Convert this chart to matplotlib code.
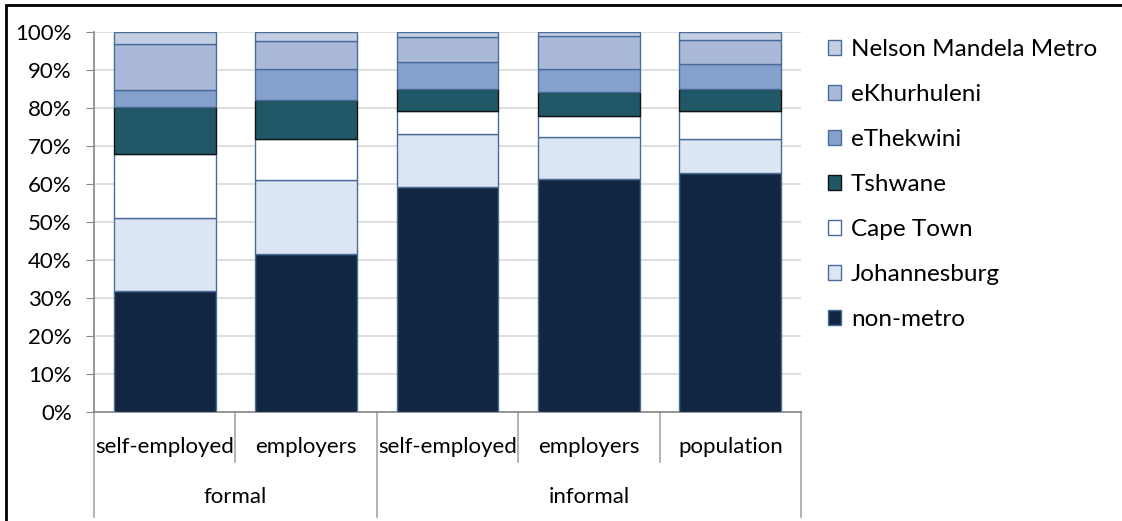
import matplotlib.pyplot as plt
import matplotlib.patches as mpatches
from matplotlib.transforms import blended_transform_factory
from matplotlib.ticker import PercentFormatter

plt.rcParams['font.family'] = ['Lato', 'DejaVu Sans']

# category labels, two levels
categories = ['self-employed', 'employers', 'self-employed', 'employers', 'population']
groups = ['formal', 'informal']
group_sizes = [2, 3]

# share of each region per category (%), bottom to top
regions = ['non-metro', 'Johannesburg', 'Cape Town', 'Tshwane',
           'eThekwini', 'eKhurhuleni', 'Nelson Mandela Metro']
non_metro = [31.8, 41.6, 59.1, 61.2, 62.8]
johannesburg = [19.3, 19.5, 14.1, 11.2, 9.0]
cape_town = [16.8, 10.8, 6.0, 5.6, 7.4]
tshwane = [12.4, 10.1, 5.8, 6.2, 5.8]
ethekwini = [4.5, 8.3, 7.1, 6.1, 6.6]
ekhurhuleni = [12.0, 7.2, 6.5, 8.6, 6.2]
nelson_mandela = [3.2, 2.5, 1.4, 1.1, 2.2]

series = [non_metro, johannesburg, cape_town, tshwane,
          ethekwini, ekhurhuleni, nelson_mandela]
colors = ['#112640', '#DCE6F2', '#FFFFFF', '#215868',
          '#84A0CB', '#AAB9D8', '#C5CFE3']
edges = ['#4A6C9B', '#4A6C9B', '#4A6C9B', '#111111',
         '#4A6C9B', '#4A6C9B', '#4A6C9B']

W, H = 1122, 521
fig = plt.figure(figsize=(W / 100, H / 100), dpi=100)
ax = fig.add_axes([94 / W, 1 - 412 / H, 707 / W, 380 / H])

x = list(range(len(categories)))
bottom = [0.0] * len(categories)
for vals, col, ec, name in zip(series, colors, edges, regions):
    ax.bar(x, vals, bottom=bottom, width=0.72, color=col,
           edgecolor=ec, linewidth=1.0, label=name, zorder=3)
    bottom = [a + v for a, v in zip(bottom, vals)]

ax.set_xlim(-0.5, len(categories) - 0.5)
ax.set_ylim(0, 100)
ax.set_yticks(range(0, 101, 10))
ax.yaxis.set_major_formatter(PercentFormatter(decimals=0))
ax.tick_params(axis='y', length=6, color='#868686', labelsize=16, pad=10)
ax.tick_params(axis='x', bottom=False, labelbottom=False)
ax.grid(axis='y', color='#D9D9D9', linewidth=1.2, zorder=0)
for s in ['top', 'right']:
    ax.spines[s].set_visible(False)
for s in ['left', 'bottom']:
    ax.spines[s].set_color('#868686')
    ax.spines[s].set_linewidth(1.2)

# two-level category axis below the plot
trans = blended_transform_factory(ax.transData, ax.transAxes)
px = 1 / 380
inner_low = -50 * px
outer_low = -105 * px
for i, lab in enumerate(categories):
    ax.text(i, -35 * px, lab, transform=trans, ha='center', va='center',
            fontsize=16, color='black')
edges_x = [0]
for n in group_sizes:
    edges_x.append(edges_x[-1] + n)
for i in range(len(categories) + 1):
    low = outer_low if i in edges_x else inner_low
    ax.plot([i - 0.5, i - 0.5], [0, low], transform=trans, color='#A6A6A6',
            linewidth=1.2, clip_on=False)
for g, start, n in zip(groups, edges_x[:-1], group_sizes):
    ax.text(start + (n - 1) / 2, -85 * px, g, transform=trans, ha='center',
            va='center', fontsize=16, color='black')

# legend, top entry first
handles = [mpatches.Patch(facecolor=c, edgecolor=e, linewidth=1.0)
           for c, e in zip(colors, edges)]
fig.legend(handles[::-1], regions[::-1], loc='upper left',
           bbox_to_anchor=(828 / W, 1 - 39 / H), frameon=False,
           fontsize=17.5, handlelength=0.55, handleheight=0.55,
           handletextpad=0.4, labelspacing=0.99, borderaxespad=0,
           borderpad=0)

# outer frame
fig.patches.append(mpatches.Rectangle((5.5 / W, -0.1), 1.2, 1 - 5 / H + 0.1,
                                      transform=fig.transFigure, fill=False,
                                      edgecolor='black', linewidth=2))

fig.savefig('out.png', dpi=100)
